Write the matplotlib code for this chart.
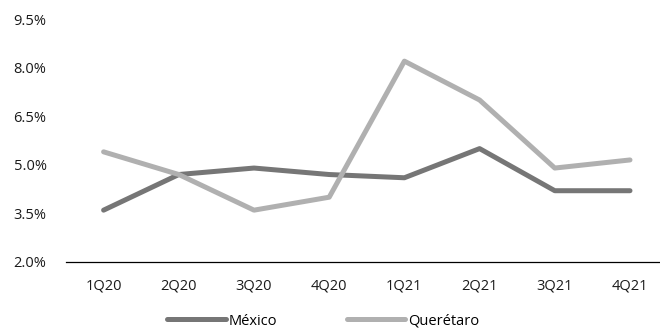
import matplotlib
matplotlib.use('Agg')
import matplotlib.pyplot as plt
import numpy as np

# quarterly values (percent)
quarters = ['1Q20', '2Q20', '3Q20', '4Q20', '1Q21', '2Q21', '3Q21', '4Q21']
mexico = [3.6, 4.7, 4.9, 4.7, 4.6, 5.5, 4.2, 4.2]
queretaro = [5.4, 4.7, 3.6, 4.0, 8.2, 7.0, 4.9, 5.15]
yticks = [2.0, 3.5, 5.0, 6.5, 8.0, 9.5]

plt.rcParams['font.family'] = ['Open Sans', 'DejaVu Sans']

fig = plt.figure(figsize=(6.6, 3.31), dpi=100)
ax = fig.add_axes([0.1, 0.2085, 0.9115, 0.734])

x = np.arange(len(quarters))
ax.plot(x, mexico, color='#767676', lw=3.6, solid_capstyle='round',
        label='México')
ax.plot(x, queretaro, color='#b0b0b0', lw=3.6, solid_capstyle='round',
        label='Querétaro')

ax.set_xlim(-0.5, len(quarters) - 0.5)
ax.set_ylim(2.0, 9.5)
ax.set_yticks(yticks)
ax.set_yticklabels(['%.1f%%' % v for v in yticks])
ax.set_xticks(x)
ax.set_xticklabels(quarters)
ax.tick_params(axis='both', length=0, labelsize=10.5, colors='#1a1a1a')
ax.tick_params(axis='y', pad=14)
ax.tick_params(axis='x', pad=12)

for side in ['top', 'right', 'left']:
    ax.spines[side].set_visible(False)
ax.spines['bottom'].set_color('black')
ax.spines['bottom'].set_linewidth(0.9)

fig.legend(loc='center', bbox_to_anchor=(0.49, 0.03), ncol=2,
           frameon=False, fontsize=10.5, handlelength=4.0,
           handletextpad=0.2, columnspacing=4.8)

fig.savefig('out.png', dpi=100)
